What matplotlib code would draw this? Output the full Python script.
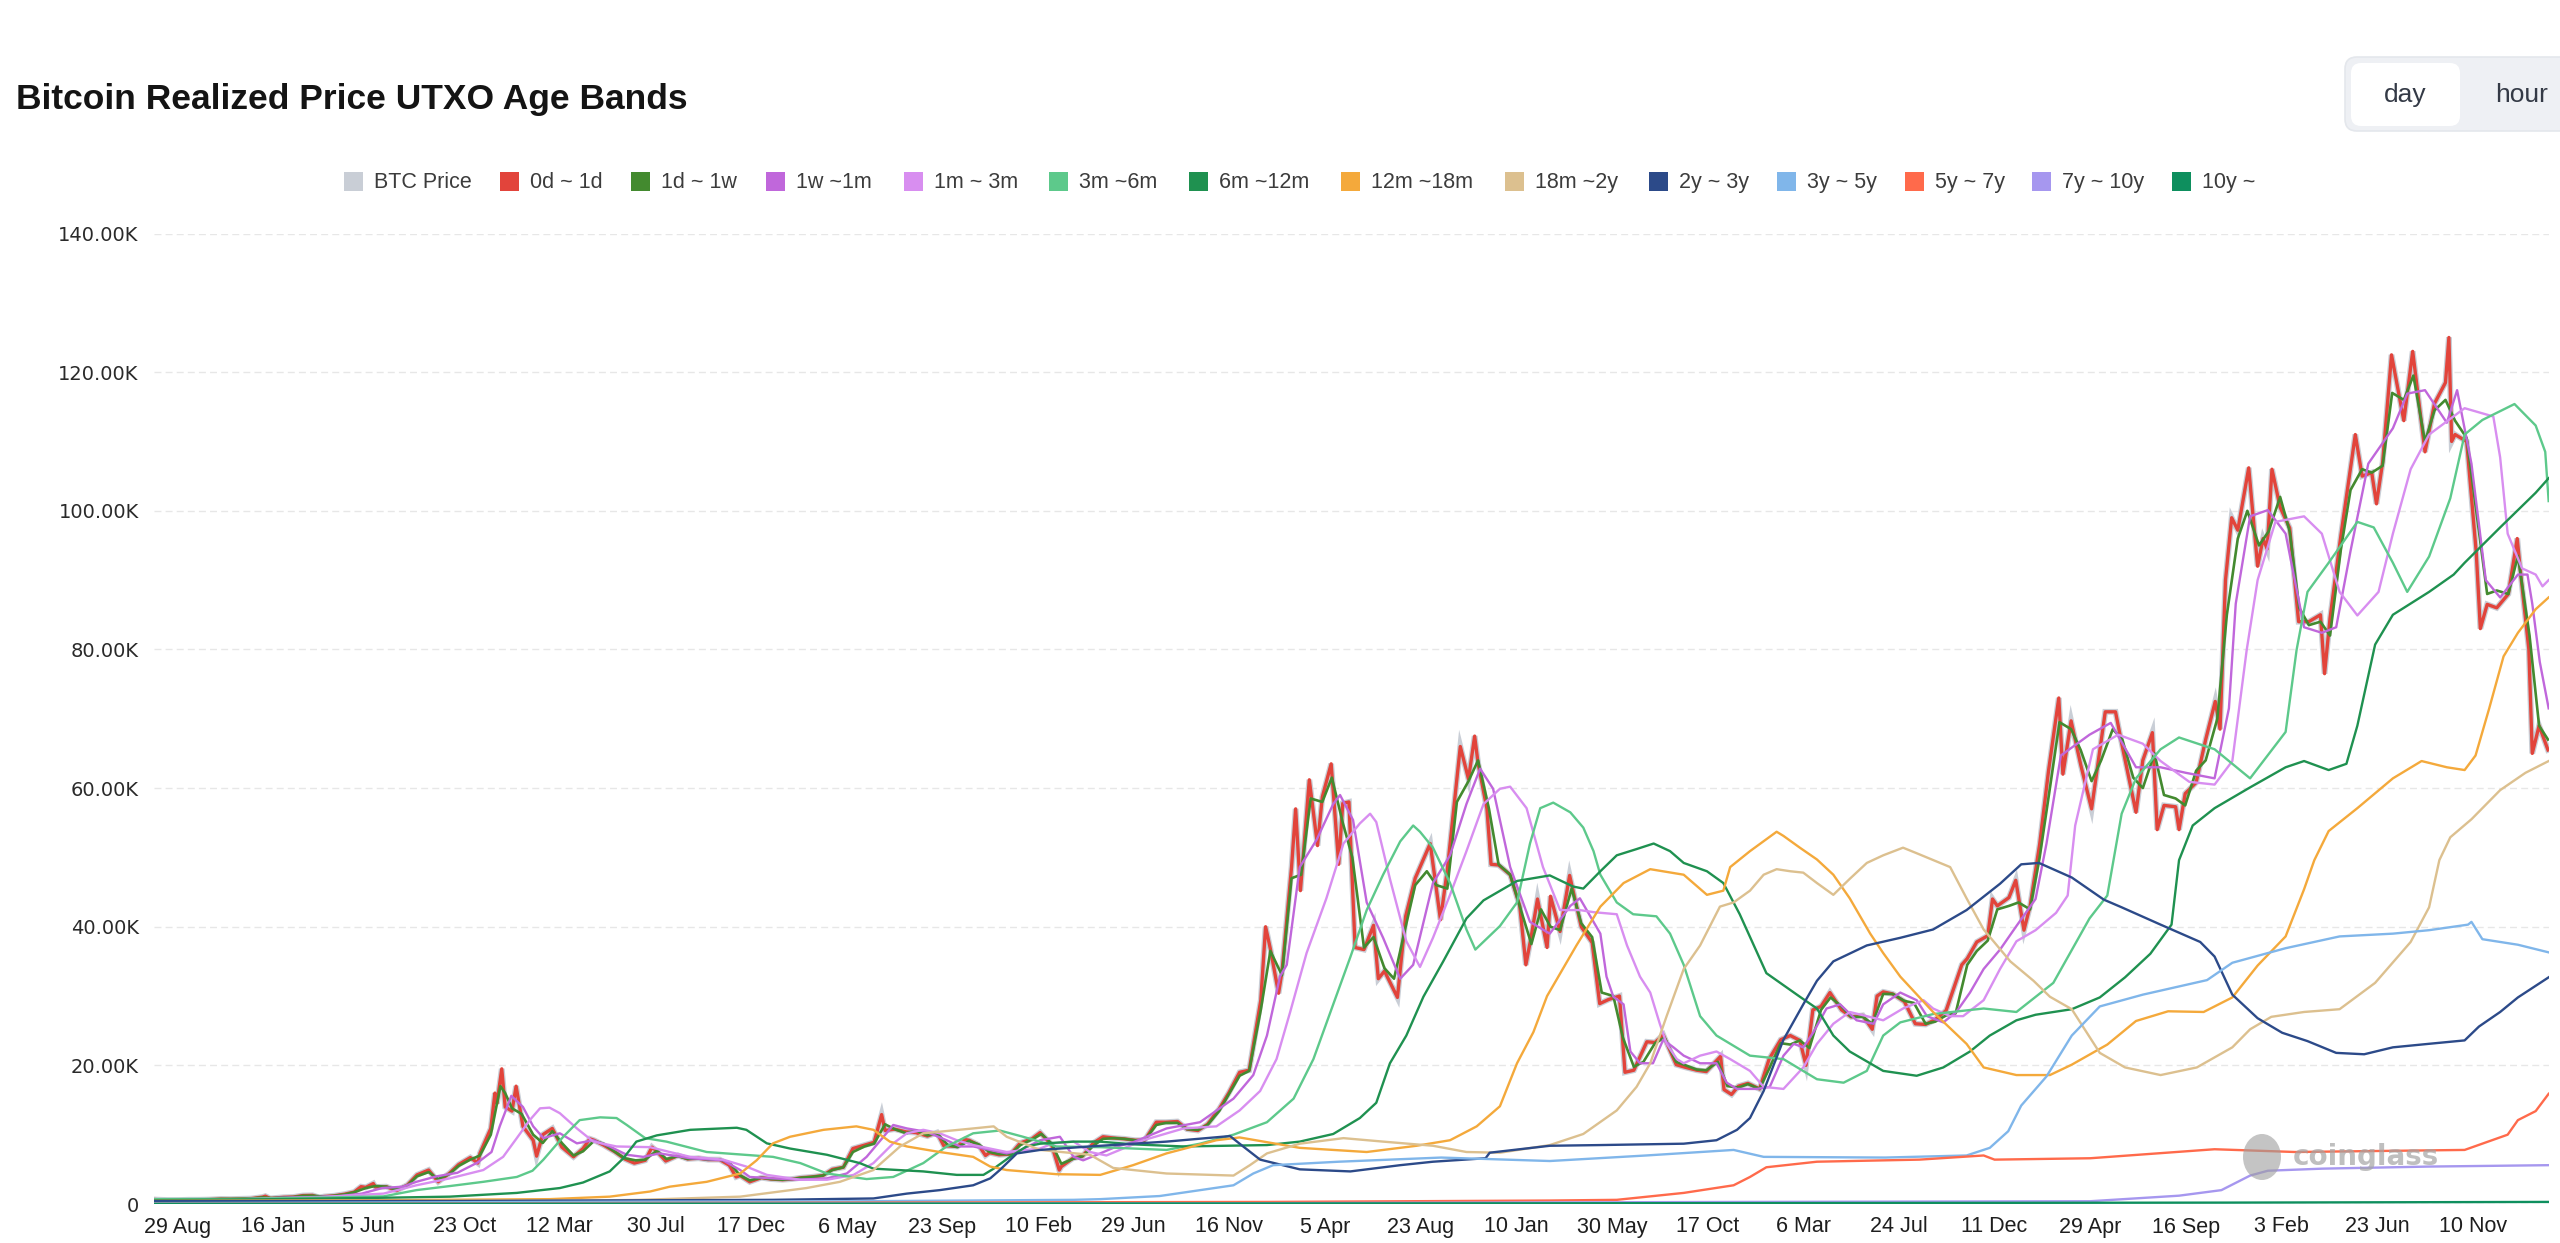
import pandas as pd
import matplotlib.pyplot as plt
from matplotlib.patches import FancyBboxPatch, Rectangle, Ellipse

# ---- data (values in thousands of USD) ----
# BTC price
btc_dates = [
    "2016-07-26", "2016-08-01", "2016-08-15", "2016-09-01", "2016-09-15", "2016-10-01", "2016-10-15",
    "2016-11-01", "2016-11-15", "2016-12-01", "2016-12-15", "2017-01-01", "2017-01-05", "2017-01-12",
    "2017-02-01", "2017-02-15", "2017-03-01", "2017-03-15", "2017-03-25", "2017-04-01", "2017-04-15",
    "2017-05-01", "2017-05-15", "2017-05-25", "2017-06-01", "2017-06-12", "2017-06-15", "2017-07-01",
    "2017-07-16", "2017-08-01", "2017-08-15", "2017-09-01", "2017-09-15", "2017-10-01", "2017-10-15",
    "2017-11-01", "2017-11-12", "2017-11-15", "2017-12-01", "2017-12-07", "2017-12-10", "2017-12-17",
    "2017-12-22", "2018-01-01", "2018-01-07", "2018-01-17", "2018-02-01", "2018-02-06", "2018-02-15",
    "2018-03-01", "2018-03-15", "2018-04-01", "2018-04-15", "2018-04-25", "2018-05-01", "2018-05-15",
    "2018-06-01", "2018-06-15", "2018-06-29", "2018-07-15", "2018-07-25", "2018-08-01", "2018-08-14",
    "2018-09-01", "2018-09-15", "2018-10-01", "2018-10-15", "2018-11-01", "2018-11-15", "2018-11-25",
    "2018-12-01", "2018-12-15", "2019-01-01", "2019-01-15", "2019-02-01", "2019-02-15", "2019-03-01",
    "2019-03-15", "2019-04-01", "2019-04-15", "2019-05-01", "2019-05-15", "2019-06-01", "2019-06-15",
    "2019-06-26", "2019-07-01", "2019-07-15", "2019-08-01", "2019-08-15", "2019-09-01", "2019-09-15",
    "2019-09-25", "2019-10-15", "2019-10-26", "2019-11-01", "2019-11-15", "2019-11-25", "2019-12-01",
    "2019-12-15", "2020-01-01", "2020-01-15", "2020-02-01", "2020-02-13", "2020-03-01", "2020-03-12",
    "2020-03-15", "2020-04-01", "2020-04-15", "2020-05-01", "2020-05-15", "2020-06-01", "2020-06-15",
    "2020-07-01", "2020-07-15", "2020-08-01", "2020-08-15", "2020-09-01", "2020-09-15", "2020-10-01",
    "2020-10-15", "2020-11-01", "2020-11-15", "2020-12-01", "2020-12-15", "2021-01-01", "2021-01-08",
    "2021-01-15", "2021-01-27", "2021-02-01", "2021-02-15", "2021-02-21", "2021-02-28", "2021-03-13",
    "2021-03-25", "2021-04-01", "2021-04-14", "2021-04-25", "2021-05-01", "2021-05-10", "2021-05-19",
    "2021-06-01", "2021-06-15", "2021-06-22", "2021-07-01", "2021-07-20", "2021-08-01", "2021-08-15",
    "2021-09-06", "2021-09-21", "2021-10-01", "2021-10-20", "2021-11-01", "2021-11-10", "2021-11-15",
    "2021-11-28", "2021-12-04", "2021-12-15", "2022-01-01", "2022-01-15", "2022-01-24", "2022-02-01",
    "2022-02-10", "2022-02-24", "2022-03-01", "2022-03-15", "2022-03-29", "2022-04-15", "2022-05-01",
    "2022-05-12", "2022-05-25", "2022-06-10", "2022-06-18", "2022-07-01", "2022-07-20", "2022-08-01",
    "2022-08-13", "2022-09-01", "2022-09-15", "2022-10-01", "2022-10-15", "2022-11-05", "2022-11-10",
    "2022-11-21", "2022-12-01", "2022-12-15", "2023-01-01", "2023-01-15", "2023-02-01", "2023-02-15",
    "2023-03-01", "2023-03-10", "2023-03-20", "2023-04-01", "2023-04-14", "2023-05-01", "2023-05-15",
    "2023-06-01", "2023-06-15", "2023-06-22", "2023-07-01", "2023-07-15", "2023-08-01", "2023-08-17",
    "2023-09-01", "2023-09-15", "2023-10-01", "2023-10-24", "2023-11-01", "2023-11-15", "2023-12-01",
    "2023-12-08", "2023-12-15", "2024-01-01", "2024-01-11", "2024-01-23", "2024-02-01", "2024-02-15",
    "2024-02-28", "2024-03-14", "2024-03-20", "2024-04-01", "2024-04-15", "2024-05-01", "2024-05-21",
    "2024-06-05", "2024-06-15", "2024-07-05", "2024-07-15", "2024-07-29", "2024-08-05", "2024-08-15",
    "2024-09-01", "2024-09-06", "2024-09-15", "2024-10-01", "2024-10-15", "2024-10-29", "2024-11-05",
    "2024-11-13", "2024-11-22", "2024-12-01", "2024-12-17", "2024-12-30", "2025-01-07", "2025-01-13",
    "2025-01-20", "2025-02-01", "2025-02-15", "2025-02-28", "2025-03-15", "2025-04-01", "2025-04-07",
    "2025-04-15", "2025-05-01", "2025-05-22", "2025-06-01", "2025-06-15", "2025-06-22", "2025-07-01",
    "2025-07-14", "2025-08-01", "2025-08-14", "2025-09-01", "2025-09-15", "2025-10-01", "2025-10-06",
    "2025-10-10", "2025-10-15", "2025-11-01", "2025-11-15", "2025-11-21", "2025-12-01", "2025-12-15",
    "2026-01-01", "2026-01-14", "2026-01-20", "2026-01-31", "2026-02-05", "2026-02-15", "2026-02-28",
]
btc_price = [
    0.65, 0.62, 0.57, 0.57, 0.61, 0.61, 0.64,
    0.73, 0.71, 0.75, 0.78, 1.00, 1.13, 0.80,
    0.97, 1.01, 1.22, 1.25, 0.93, 1.08, 1.18,
    1.42, 1.72, 2.50, 2.40, 2.95, 2.45, 2.50,
    1.93, 2.75, 4.20, 4.90, 3.20, 4.40, 5.70,
    6.70, 5.90, 7.30, 10.90, 16.00, 14.50, 19.50,
    14.00, 13.40, 17.00, 11.20, 9.20, 6.90, 10.00,
    10.90, 8.20, 6.80, 8.00, 9.40, 9.20, 8.50,
    7.50, 6.50, 5.90, 6.30, 8.20, 7.60, 6.20,
    7.00, 6.50, 6.60, 6.40, 6.40, 5.60, 3.90,
    4.10, 3.20, 3.80, 3.60, 3.50, 3.60, 3.80,
    3.90, 4.10, 5.00, 5.30, 8.00, 8.50, 8.90,
    12.90, 10.60, 10.80, 10.40, 10.30, 9.80, 10.30,
    8.40, 8.30, 9.30, 9.20, 8.50, 7.00, 7.40,
    7.10, 7.20, 8.80, 9.40, 10.30, 8.50, 4.90,
    5.40, 6.60, 6.90, 8.80, 9.70, 9.50, 9.40,
    9.20, 9.20, 11.80, 11.80, 11.90, 10.80, 10.60,
    11.50, 13.70, 16.00, 19.00, 19.30, 29.40, 40.00,
    36.80, 30.40, 33.50, 48.60, 57.00, 45.20, 61.20,
    51.70, 58.70, 63.50, 49.00, 57.80, 58.00, 37.00,
    36.70, 40.20, 32.50, 33.60, 29.80, 41.50, 47.00,
    52.00, 41.00, 48.20, 66.00, 61.30, 67.50, 63.60,
    57.00, 49.00, 48.90, 47.50, 43.00, 34.50, 38.70,
    44.00, 37.00, 44.40, 39.30, 47.40, 40.00, 37.70,
    28.90, 29.50, 30.00, 19.00, 19.30, 23.40, 23.30,
    24.40, 20.10, 19.70, 19.30, 19.10, 21.30, 16.50,
    15.80, 17.00, 17.40, 16.60, 20.90, 23.70, 24.30,
    23.60, 20.00, 28.00, 28.50, 30.50, 28.00, 27.00,
    27.20, 25.20, 30.00, 30.60, 30.30, 29.20, 26.00,
    25.90, 26.60, 27.90, 34.50, 35.40, 37.80, 38.70,
    44.00, 43.00, 44.20, 46.70, 39.50, 43.00, 51.90,
    62.50, 73.00, 62.00, 69.70, 63.40, 57.00, 71.00,
    71.00, 66.00, 56.50, 64.00, 68.00, 54.00, 57.50,
    57.30, 54.00, 59.20, 60.80, 67.00, 72.50, 68.50,
    90.00, 99.00, 97.20, 106.20, 92.00, 96.00, 94.50,
    106.00, 100.50, 97.50, 84.00, 84.00, 85.00, 76.50,
    84.50, 96.50, 111.00, 105.00, 105.50, 101.00, 107.00,
    122.50, 113.00, 123.00, 108.50, 115.50, 118.50, 125.00,
    110.00, 111.00, 110.00, 94.00, 83.00, 86.50, 86.00,
    88.00, 96.00, 90.00, 80.00, 65.00, 69.00, 65.50,
]
# the 0d ~ 1d band sits on the daily price
band_0d_1d = btc_price

# 1d ~ 1w band, read twice a month
w_dates = [
    "2016-07-26", "2016-08-01", "2016-08-15", "2016-09-01", "2016-09-15", "2016-10-01", "2016-10-15",
    "2016-11-01", "2016-11-15", "2016-12-01", "2016-12-15",
    "2017-01-01", "2017-01-15", "2017-02-01", "2017-02-15", "2017-03-01", "2017-03-15", "2017-04-01",
    "2017-04-15", "2017-05-01", "2017-05-15", "2017-06-01", "2017-06-15", "2017-07-01", "2017-07-15",
    "2017-08-01", "2017-08-15", "2017-09-01", "2017-09-15", "2017-10-01", "2017-10-15", "2017-11-01",
    "2017-11-15", "2017-12-01", "2017-12-15", "2017-12-22",
    "2018-01-01", "2018-01-15", "2018-02-01", "2018-02-15", "2018-03-01", "2018-03-15", "2018-04-01",
    "2018-04-15", "2018-05-01", "2018-05-15", "2018-06-01", "2018-06-15", "2018-07-01", "2018-07-15",
    "2018-08-01", "2018-08-15", "2018-09-01", "2018-09-15", "2018-10-01", "2018-10-15", "2018-11-01",
    "2018-11-15", "2018-12-01", "2018-12-15",
    "2019-01-01", "2019-01-15", "2019-02-01", "2019-02-15", "2019-03-01", "2019-03-15", "2019-04-01",
    "2019-04-15", "2019-05-01", "2019-05-15", "2019-06-01", "2019-06-15", "2019-07-01", "2019-07-15",
    "2019-08-01", "2019-08-15", "2019-09-01", "2019-09-15", "2019-10-01", "2019-10-15", "2019-11-01",
    "2019-11-15", "2019-12-01", "2019-12-15",
    "2020-01-01", "2020-01-15", "2020-02-01", "2020-02-15", "2020-03-01", "2020-03-15", "2020-04-01",
    "2020-04-15", "2020-05-01", "2020-05-15", "2020-06-01", "2020-06-15", "2020-07-01", "2020-07-15",
    "2020-08-01", "2020-08-15", "2020-09-01", "2020-09-15", "2020-10-01", "2020-10-15", "2020-11-01",
    "2020-11-15", "2020-12-01", "2020-12-15",
    "2021-01-01", "2021-01-15", "2021-02-01", "2021-02-15", "2021-03-01", "2021-03-15", "2021-04-01",
    "2021-04-15", "2021-05-01", "2021-05-15", "2021-06-01", "2021-06-15", "2021-07-01", "2021-07-15",
    "2021-08-01", "2021-08-15", "2021-09-01", "2021-09-15", "2021-10-01", "2021-10-15", "2021-11-01",
    "2021-11-15", "2021-12-01", "2021-12-15",
    "2022-01-01", "2022-01-15", "2022-02-01", "2022-02-15", "2022-03-01", "2022-03-15", "2022-04-01",
    "2022-04-15", "2022-05-01", "2022-05-15", "2022-06-01", "2022-06-15", "2022-07-01", "2022-07-15",
    "2022-08-01", "2022-08-15", "2022-09-01", "2022-09-15", "2022-10-01", "2022-10-15", "2022-11-01",
    "2022-11-15", "2022-12-01", "2022-12-15",
    "2023-01-01", "2023-01-15", "2023-02-01", "2023-02-15", "2023-03-01", "2023-03-15", "2023-04-01",
    "2023-04-15", "2023-05-01", "2023-05-15", "2023-06-01", "2023-06-15", "2023-07-01", "2023-07-15",
    "2023-08-01", "2023-08-15", "2023-09-01", "2023-09-15", "2023-10-01", "2023-10-15", "2023-11-01",
    "2023-11-15", "2023-12-01", "2023-12-15",
    "2024-01-01", "2024-01-15", "2024-02-01", "2024-02-15", "2024-03-01", "2024-03-15", "2024-04-01",
    "2024-04-15", "2024-05-01", "2024-05-15", "2024-06-01", "2024-06-15", "2024-07-01", "2024-07-15",
    "2024-08-01", "2024-08-15", "2024-09-01", "2024-09-15", "2024-10-01", "2024-10-15", "2024-11-01",
    "2024-11-15", "2024-12-01", "2024-12-15",
    "2025-01-01", "2025-01-15", "2025-02-01", "2025-02-15", "2025-03-01", "2025-03-15", "2025-04-01",
    "2025-04-15", "2025-05-01", "2025-05-15", "2025-06-01", "2025-06-15", "2025-07-01", "2025-07-15",
    "2025-08-01", "2025-08-15", "2025-09-01", "2025-09-15", "2025-10-01", "2025-10-15", "2025-11-01",
    "2025-11-15", "2025-12-01", "2025-12-15",
    "2026-01-01", "2026-01-15", "2026-02-01", "2026-02-15", "2026-02-28",
]
band_1d_1w = [
    0.66, 0.62, 0.58, 0.57, 0.61, 0.61, 0.64, 0.71, 0.71, 0.75, 0.78,
    0.95, 0.85, 0.95, 1.00, 1.18, 1.20, 1.07, 1.18, 1.38, 1.70, 2.30, 2.60, 2.50, 2.10,
    2.70, 4.00, 4.60, 3.60, 4.30, 5.50, 6.40, 7.00, 10.00, 17.00, 16.00,
    13.80, 13.00, 10.00, 8.80, 10.50, 8.80, 7.00, 7.60, 9.10, 8.70, 7.50, 6.60, 6.30, 6.40,
    7.70, 6.50, 6.90, 6.50, 6.60, 6.40, 6.40, 6.00, 4.10, 3.40,
    3.80, 3.60, 3.50, 3.60, 3.80, 3.90, 4.10, 4.90, 5.30, 7.50, 8.30, 8.70, 11.50, 10.80,
    10.20, 10.60, 9.90, 10.20, 8.50, 8.20, 9.10, 8.60, 7.50, 7.20,
    7.20, 8.50, 9.30, 10.10, 8.70, 5.80, 6.50, 6.90, 8.40, 9.40, 9.50, 9.40, 9.20, 9.20,
    11.40, 11.70, 11.70, 10.80, 10.70, 11.40, 13.40, 15.80, 18.50, 19.20,
    28.00, 36.50, 33.00, 47.00, 47.50, 58.50, 58.00, 61.50, 55.00, 50.00, 37.00, 38.50, 34.00, 32.50,
    40.00, 46.00, 48.00, 46.00, 45.50, 58.00, 61.00, 64.00, 57.00, 49.00,
    47.50, 43.00, 37.50, 42.50, 40.00, 39.50, 45.50, 40.50, 38.50, 30.50, 30.00, 24.00, 19.80, 20.50,
    23.20, 24.00, 20.50, 20.00, 19.40, 19.30, 20.50, 17.00, 16.80, 17.30,
    16.60, 19.50, 23.20, 23.00, 23.60, 22.50, 28.00, 29.80, 28.50, 27.00, 27.00, 26.00, 30.30, 30.30,
    29.30, 29.00, 26.00, 26.30, 27.20, 27.50, 34.50, 36.50, 38.00, 42.50,
    43.00, 43.50, 42.50, 50.00, 60.00, 69.50, 68.50, 65.50, 61.00, 64.00, 68.50, 67.00, 61.50, 60.00,
    65.00, 59.00, 58.50, 57.50, 62.50, 64.00, 70.00, 85.00, 96.00, 100.00,
    95.00, 97.00, 102.00, 97.00, 86.00, 83.50, 84.00, 82.00, 94.50, 103.00, 106.00, 105.50, 106.50, 117.00,
    116.00, 119.50, 110.00, 114.50, 116.00, 113.00, 110.50, 100.00, 88.00, 88.50,
    88.00, 93.50, 82.00, 69.00, 67.00,
]

# longer bands as (days since 29 Aug 2016, value) knots
band_1w_1m = [
    (-34, 0.62), (0, 0.58), (60, 0.60), (120, 0.76), (150, 0.90), (200, 1.00), (240, 1.15), (270, 1.50),
    (300, 2.30), (330, 2.50), (350, 3.20), (380, 4.00), (410, 4.50), (440, 6.00), (460, 7.50), (472, 11.2),
    (489, 15.6), (506, 14.0), (521, 11.2), (536, 9.5), (560, 10.2), (585, 8.75), (609, 9.2), (633, 8.3),
    (658, 7.1), (682, 6.8), (706, 7.3), (751, 6.6), (799, 6.3), (824, 4.9), (838, 3.9), (872, 3.7),
    (912, 3.5), (951, 3.7), (980, 4.4), (1009, 6.8), (1038, 10.2), (1048, 11.4), (1068, 10.9),
    (1097, 10.4), (1126, 9.2), (1146, 8.3), (1165, 8.3), (1190, 7.8), (1214, 7.3), (1235, 7.8),
    (1263, 9.2), (1292, 9.7), (1312, 6.8), (1326, 6.3), (1351, 7.3), (1375, 8.3), (1399, 8.9),
    (1448, 10.9), (1497, 11.8), (1546, 15.2), (1575, 18.6), (1595, 24.3), (1614, 32.8), (1624, 34.5),
    (1643, 48.6), (1668, 52.6), (1692, 57.7), (1702, 59.0), (1721, 55.4), (1741, 43.5), (1765, 38.4),
    (1790, 32.5), (1809, 34.5), (1838, 46.3), (1863, 50.3), (1887, 57.7), (1907, 62.8), (1926, 59.9),
    (1951, 48.6), (1980, 40.7), (2009, 39.0), (2039, 43.0), (2053, 44.1), (2083, 39.0), (2092, 32.8),
    (2102, 29.9), (2117, 28.8), (2127, 22.0), (2141, 20.3), (2160, 20.3), (2175, 23.7), (2190, 22.6),
    (2205, 21.4), (2229, 20.3), (2253, 20.3), (2268, 17.5), (2283, 16.6), (2312, 16.6), (2331, 16.9),
    (2351, 21.4), (2366, 23.1), (2380, 22.6), (2395, 24.8), (2414, 28.2), (2434, 28.8), (2458, 26.5),
    (2483, 26.0), (2497, 28.8), (2522, 30.5), (2546, 29.4), (2561, 27.1), (2585, 26.2), (2604, 27.7),
    (2624, 30.5), (2644, 33.9), (2668, 36.7), (2692, 40.1), (2720, 44.0), (2736, 52.0), (2757, 64.7),
    (2799, 67.7), (2830, 69.4), (2867, 63.0), (2903, 63.0), (2940, 62.2), (2982, 61.4), (3003, 71.5),
    (3013, 86.6), (3034, 99.2), (3060, 100.1), (3086, 96.7), (3113, 83.2), (3139, 82.4), (3160, 83.2),
    (3181, 94.2), (3207, 106.8), (3243, 111.9), (3264, 116.9), (3290, 117.4), (3322, 112.7),
    (3337, 117.4), (3358, 106.8), (3379, 90.0), (3400, 87.5), (3426, 90.8), (3440, 90.8), (3447, 86.6),
    (3458, 78.2), (3471, 71.5),
]
band_1m_3m = [
    (-34, 0.60), (100, 0.70), (200, 0.95), (302, 1.5), (350, 2.7), (399, 3.7), (448, 4.9), (477, 6.8),
    (497, 9.5), (516, 12.1), (531, 13.8), (545, 13.9), (560, 13.1), (585, 10.9), (609, 9.0), (643, 8.3),
    (692, 8.2), (721, 7.5), (751, 6.8), (799, 6.4), (833, 5.4), (863, 4.2), (912, 3.5), (951, 3.5),
    (990, 4.2), (1019, 5.9), (1048, 8.75), (1068, 10.2), (1092, 10.7), (1116, 10.2), (1141, 9.2),
    (1165, 8.5), (1214, 7.5), (1263, 8.0), (1282, 8.75), (1312, 9.0), (1336, 7.5), (1360, 7.0),
    (1414, 9.2), (1473, 10.9), (1521, 11.2), (1555, 13.5), (1585, 16.3), (1609, 20.9), (1629, 27.7),
    (1653, 36.2), (1682, 44.1), (1707, 52.0), (1731, 54.9), (1746, 56.3), (1755, 55.1), (1775, 46.9),
    (1799, 37.9), (1819, 34.2), (1838, 38.4), (1863, 44.6), (1887, 50.9), (1912, 57.7), (1936, 59.9),
    (1951, 60.2), (1975, 57.1), (1999, 48.6), (2024, 42.4), (2053, 42.4), (2073, 42.1), (2107, 41.8),
    (2122, 37.3), (2141, 32.8), (2156, 30.5), (2170, 26.0), (2180, 23.1), (2195, 20.9), (2205, 20.3),
    (2229, 21.4), (2253, 22.0), (2273, 20.9), (2302, 19.2), (2322, 16.9), (2351, 16.6), (2380, 19.7),
    (2400, 23.1), (2424, 26.0), (2448, 27.7), (2473, 27.1), (2497, 26.5), (2526, 28.2), (2556, 29.4),
    (2570, 28.2), (2595, 27.1), (2614, 27.1), (2644, 29.4), (2668, 33.9), (2692, 37.9), (2720, 39.5),
    (2750, 42.0), (2767, 44.5), (2778, 54.6), (2804, 65.6), (2841, 67.7), (2877, 66.4), (2903, 63.9),
    (2945, 60.9), (2982, 60.5), (3008, 63.9), (3029, 79.9), (3045, 90.0), (3071, 98.4), (3113, 99.2),
    (3139, 96.7), (3165, 88.3), (3191, 84.9), (3222, 88.3), (3243, 96.7), (3269, 106.0), (3296, 111.0),
    (3348, 114.8), (3390, 113.6), (3400, 107.7), (3411, 96.7), (3432, 91.7), (3452, 90.8), (3462, 89.1),
    (3471, 90.0),
]
band_3m_6m = [
    (-34, 0.70), (100, 0.75), (200, 0.90), (302, 1.1), (350, 2.0), (400, 2.6), (448, 3.2), (497, 3.9),
    (520, 4.8), (536, 6.4), (550, 8.0), (565, 9.7), (589, 12.1), (619, 12.5), (643, 12.4), (658, 11.4),
    (685, 9.5), (716, 9.0), (775, 7.5), (872, 6.8), (912, 5.9), (951, 4.4), (1009, 3.6), (1048, 3.9),
    (1092, 5.9), (1126, 8.3), (1165, 10.2), (1204, 10.6), (1238, 9.7), (1287, 8.3), (1351, 8.2),
    (1448, 7.8), (1497, 8.7), (1546, 10.0), (1595, 11.8), (1634, 15.2), (1663, 20.9), (1692, 28.8),
    (1717, 35.6), (1741, 42.4), (1765, 47.5), (1790, 52.3), (1809, 54.6), (1819, 53.7), (1838, 51.4),
    (1863, 46.3), (1887, 39.6), (1900, 36.7), (1936, 40.1), (1961, 43.5), (1980, 52.0), (1995, 57.1),
    (2014, 57.9), (2039, 56.5), (2058, 54.3), (2073, 50.9), (2083, 47.5), (2107, 43.5), (2131, 41.8),
    (2165, 41.5), (2185, 39.0), (2205, 34.5), (2229, 27.1), (2253, 24.3), (2302, 21.4), (2351, 20.9),
    (2400, 18.0), (2439, 17.5), (2473, 19.2), (2497, 24.3), (2522, 26.2), (2570, 27.4), (2644, 28.2),
    (2692, 27.7), (2746, 31.9), (2799, 41.2), (2825, 44.5), (2846, 56.3), (2867, 61.4), (2903, 65.6),
    (2930, 67.3), (2982, 65.6), (3034, 61.4), (3086, 68.1), (3102, 79.9), (3118, 88.3), (3149, 92.5),
    (3191, 98.4), (3215, 97.6), (3243, 92.5), (3264, 88.3), (3296, 93.4), (3327, 101.8), (3348, 111.0),
    (3374, 113.1), (3421, 115.4), (3452, 112.3), (3466, 108.5), (3471, 101.4),
]
band_6m_12m = [
    (-34, 0.55), (150, 0.70), (300, 0.90), (399, 1.06), (497, 1.6), (560, 2.3), (594, 3.1), (633, 4.7),
    (653, 6.6), (672, 9.0), (702, 9.9), (751, 10.7), (819, 11.0), (833, 10.7), (863, 8.75), (897, 8.0),
    (951, 7.1), (999, 5.9), (1019, 5.1), (1092, 4.7), (1141, 4.2), (1180, 4.2), (1195, 5.1), (1219, 6.8),
    (1243, 8.3), (1263, 8.7), (1312, 9.0), (1350, 9.0), (1400, 8.6), (1473, 8.3), (1595, 8.5),
    (1643, 9.0), (1692, 10.1), (1731, 12.4), (1755, 14.6), (1775, 20.3), (1799, 24.3), (1824, 29.9),
    (1853, 35.0), (1887, 41.2), (1912, 43.8), (1961, 46.6), (2009, 47.4), (2043, 45.8), (2058, 45.5),
    (2083, 48.0), (2107, 50.3), (2136, 51.2), (2161, 52.0), (2185, 50.9), (2205, 49.2), (2239, 48.0),
    (2263, 46.3), (2287, 41.8), (2326, 33.3), (2375, 29.9), (2400, 28.2), (2424, 24.3), (2448, 22.0),
    (2497, 19.2), (2546, 18.5), (2585, 19.7), (2624, 22.0), (2653, 24.3), (2692, 26.5), (2720, 27.3),
    (2773, 28.1), (2814, 29.8), (2851, 32.7), (2888, 36.1), (2919, 40.3), (2930, 49.6), (2950, 54.6),
    (2982, 57.1), (3034, 60.1), (3086, 63.0), (3113, 63.9), (3149, 62.6), (3175, 63.5), (3191, 69.0),
    (3217, 80.7), (3243, 85.0), (3296, 88.3), (3332, 90.8), (3348, 92.5), (3400, 97.6), (3452, 102.6),
    (3471, 104.7),
]
band_12m_18m = [
    (-34, 0.45), (300, 0.55), (545, 0.70), (633, 1.06), (692, 1.8), (721, 2.5), (775, 3.2), (824, 4.4),
    (848, 6.3), (872, 8.75), (897, 9.7), (946, 10.7), (994, 11.2), (1019, 10.7), (1043, 9.0), (1068, 8.3),
    (1116, 7.5), (1165, 6.8), (1190, 5.4), (1214, 4.9), (1287, 4.3), (1351, 4.2), (1399, 5.6),
    (1448, 7.3), (1521, 9.2), (1555, 9.6), (1643, 8.1), (1741, 7.5), (1814, 8.4), (1863, 9.2),
    (1902, 11.2), (1936, 14.1), (1961, 20.3), (1985, 24.8), (2005, 30.0), (2048, 37.3), (2083, 42.9),
    (2117, 46.3), (2156, 48.3), (2205, 47.5), (2239, 44.6), (2263, 45.2), (2273, 48.6), (2302, 50.9),
    (2341, 53.7), (2351, 53.1), (2375, 51.4), (2400, 49.7), (2424, 47.5), (2448, 44.1), (2478, 39.0),
    (2497, 36.2), (2522, 32.8), (2570, 27.7), (2619, 23.1), (2644, 19.7), (2692, 18.6), (2741, 18.6),
    (2773, 20.1), (2825, 23.0), (2867, 26.4), (2914, 27.8), (2966, 27.7), (3008, 29.8), (3045, 34.4),
    (3086, 38.6), (3113, 45.4), (3128, 49.6), (3149, 53.8), (3191, 57.1), (3243, 61.4), (3285, 63.9),
    (3322, 63.0), (3348, 62.6), (3364, 64.7), (3384, 71.5), (3405, 79.0), (3426, 82.4), (3452, 85.8),
    (3471, 87.5),
]
band_18m_2y = [
    (-34, 0.40), (600, 0.50), (677, 0.60), (824, 1.06), (921, 2.3), (970, 3.2), (1019, 4.9), (1058, 8.3),
    (1092, 10.2), (1165, 10.9), (1195, 11.2), (1214, 9.7), (1263, 7.8), (1336, 7.1), (1370, 5.2),
    (1448, 4.4), (1546, 4.1), (1570, 5.6), (1595, 7.3), (1643, 8.7), (1707, 9.5), (1765, 9.0),
    (1838, 8.4), (1887, 7.5), (1936, 7.4), (2009, 8.5), (2058, 10.1), (2107, 13.5), (2136, 16.9),
    (2156, 20.3), (2180, 27.1), (2205, 33.9), (2229, 37.3), (2258, 42.9), (2278, 43.5), (2302, 45.2),
    (2322, 47.5), (2341, 48.3), (2361, 48.0), (2380, 47.8), (2400, 46.3), (2424, 44.6), (2448, 46.9),
    (2473, 49.2), (2497, 50.3), (2526, 51.4), (2546, 50.6), (2595, 48.6), (2619, 44.1), (2644, 39.6),
    (2683, 35.0), (2717, 32.2), (2741, 29.9), (2773, 28.1), (2814, 21.8), (2851, 19.7), (2903, 18.6),
    (2956, 19.7), (3008, 22.6), (3034, 25.2), (3065, 27.0), (3113, 27.7), (3165, 28.1), (3217, 31.9),
    (3269, 37.8), (3296, 42.8), (3311, 49.6), (3327, 52.9), (3358, 55.5), (3400, 59.7), (3437, 62.2),
    (3471, 63.9),
]
band_2y_3y = [
    (-34, 0.42), (400, 0.43), (872, 0.60), (1019, 0.80), (1068, 1.5), (1116, 2.0), (1165, 2.7),
    (1190, 3.7), (1204, 4.9), (1229, 7.3), (1263, 7.8), (1336, 8.3), (1448, 9.0), (1541, 9.8),
    (1555, 8.7), (1585, 6.4), (1643, 5.0), (1717, 4.7), (1790, 5.6), (1838, 6.1), (1915, 6.6),
    (1921, 7.4), (2009, 8.4), (2082, 8.5), (2205, 8.7), (2253, 9.2), (2283, 10.7), (2302, 12.4),
    (2322, 16.3), (2351, 23.7), (2380, 28.8), (2400, 32.2), (2424, 35.0), (2473, 37.3), (2522, 38.4),
    (2570, 39.6), (2619, 42.4), (2668, 46.2), (2699, 49.0), (2725, 49.2), (2773, 47.1), (2820, 43.9),
    (2846, 42.8), (2903, 40.3), (2961, 37.8), (2982, 35.7), (3008, 30.2), (3045, 26.8), (3081, 24.7),
    (3118, 23.5), (3160, 21.8), (3201, 21.6), (3243, 22.6), (3295, 23.1), (3348, 23.6), (3369, 25.6),
    (3400, 27.7), (3426, 29.8), (3471, 32.7),
]
band_3y_5y = [
    (-34, 0.12), (400, 0.25), (700, 0.35), (1000, 0.40), (1312, 0.60), (1351, 0.70), (1438, 1.15),
    (1546, 2.7), (1575, 4.4), (1604, 5.6), (1700, 6.1), (1850, 6.7), (2009, 6.2), (2150, 7.0),
    (2278, 7.8), (2322, 6.8), (2500, 6.7), (2619, 7.0), (2653, 8.1), (2680, 10.5), (2699, 14.2),
    (2736, 18.4), (2773, 24.3), (2814, 28.5), (2877, 30.2), (2971, 32.3), (3008, 34.8), (3086, 36.9),
    (3165, 38.6), (3243, 39.0), (3296, 39.5), (3353, 40.3), (3358, 40.7), (3374, 38.2), (3426, 37.4),
    (3471, 36.3),
]
band_5y_7y = [
    (-34, 0.03), (1000, 0.20), (1600, 0.30), (2009, 0.50), (2107, 0.60), (2205, 1.6), (2278, 2.7),
    (2302, 3.9), (2326, 5.3), (2400, 6.1), (2550, 6.4), (2644, 7.0), (2660, 6.4), (2800, 6.6),
    (2982, 7.9), (3100, 7.5), (3348, 7.8), (3411, 10.0), (3426, 12.1), (3452, 13.4), (3471, 15.9),
]
band_7y_10y = [
    (-34, 0.01), (1500, 0.10), (2300, 0.30), (2800, 0.40), (2930, 1.2), (2992, 2.0), (3034, 4.1),
    (3060, 4.8), (3140, 5.1), (3296, 5.4), (3471, 5.6),
]
band_10y = [
    (-34, 0.02), (1000, 0.05), (2000, 0.10), (3000, 0.20), (3471, 0.30),
]

series_names = ["BTC Price", "0d ~ 1d", "1d ~ 1w", "1w ~1m", "1m ~ 3m", "3m ~6m", "6m ~12m",
                "12m ~18m", "18m ~2y", "2y ~ 3y", "3y ~ 5y", "5y ~ 7y", "7y ~ 10y", "10y ~"]
series_colors = ["#c9ced6", "#e2443b", "#438a2f", "#c067db", "#d88ef0", "#5dc98b", "#1f9150",
                 "#f4a93b", "#dcc08f", "#2c4a89", "#80b6ea", "#ff6a4b", "#a697ef", "#0e8f5e"]

x_tick_labels = ["29 Aug", "16 Jan", "5 Jun", "23 Oct", "12 Mar", "30 Jul", "17 Dec", "6 May", "23 Sep",
                 "10 Feb", "29 Jun", "16 Nov", "5 Apr", "23 Aug", "10 Jan", "30 May", "17 Oct", "6 Mar",
                 "24 Jul", "11 Dec", "29 Apr", "16 Sep", "3 Feb", "23 Jun", "10 Nov"]
y_tick_labels = ["0", "20.00K", "40.00K", "60.00K", "80.00K", "100.00K", "120.00K", "140.00K"]

# ---- figure ----
START = pd.Timestamp("2016-08-29")
W, H = 2560, 1243
fig = plt.figure(figsize=(W / 100, H / 100), dpi=100)
fig.patch.set_facecolor("white")

ax = fig.add_axes([154 / W, 1 - 1204 / H, (2549 - 154) / W, (1204 - 233.5) / H])

btc_x = (pd.to_datetime(btc_dates) - START).days
w_x = (pd.to_datetime(w_dates) - START).days

ax.plot(btc_x, btc_price, color=series_colors[0], lw=4.2, zorder=2, solid_joinstyle="miter")
ax.plot(btc_x, band_0d_1d, color=series_colors[1], lw=2.4, zorder=3)
ax.plot(w_x, band_1d_1w, color=series_colors[2], lw=1.9, zorder=4)

bands = [band_1w_1m, band_1m_3m, band_3m_6m, band_6m_12m, band_12m_18m, band_18m_2y,
         band_2y_3y, band_3y_5y, band_5y_7y, band_7y_10y, band_10y]
for i, band in enumerate(bands):
    xs = [p[0] for p in band]
    ys = [p[1] for p in band]
    ax.plot(xs, ys, color=series_colors[i + 3], lw=1.7, zorder=5 + i)

ax.set_xlim(-34, 3471.5)
ax.set_ylim(0, 140)
ax.set_xticks([140 * i for i in range(len(x_tick_labels))])
ax.set_xticklabels(x_tick_labels, family=["Liberation Sans", "DejaVu Sans"],
                   fontsize=15.5, color="#1e1e1e")
ax.set_yticks([20 * i for i in range(len(y_tick_labels))])
ax.set_yticklabels(y_tick_labels, family="DejaVu Sans", fontsize=14, color="#2a2a2a")
ax.tick_params(axis="both", length=0)
ax.tick_params(axis="x", pad=9)
ax.tick_params(axis="y", pad=11)
for s in ax.spines.values():
    s.set_visible(False)
ax.set_axisbelow(True)
ax.yaxis.grid(True, color="#e7e7e7", lw=1.0, linestyle=(0, (5, 3)))
ax.xaxis.grid(False)

# ---- overlay in pixel coordinates for title, legend, buttons, watermark ----
ov = fig.add_axes([0, 0, 1, 1], zorder=20)
ov.set_xlim(0, W)
ov.set_ylim(H, 0)
ov.axis("off")
ov.patch.set_alpha(0)

ov.text(16, 109, "Bitcoin Realized Price UTXO Age Bands", fontsize=25.5, fontweight="bold",
        family=["Liberation Sans", "DejaVu Sans"], color="#141414", va="baseline", ha="left")

swatch_x = [344, 500, 631, 766, 904, 1049, 1189, 1341, 1505, 1649, 1777, 1905, 2032, 2172]
for sx, name, col in zip(swatch_x, series_names, series_colors):
    ov.add_patch(Rectangle((sx, 171.5), 19, 19.5, facecolor=col, edgecolor="none"))
    ov.text(sx + 30, 182, name, fontsize=15.5, family=["Liberation Sans", "DejaVu Sans"],
            color="#3c3c3c", va="center", ha="left")

# day / hour switch
ov.add_patch(FancyBboxPatch((2345, 57), 260, 74, boxstyle="round,pad=0,rounding_size=12",
                            facecolor="#eef0f4", edgecolor="#e4e7ec", lw=1.2))
ov.add_patch(FancyBboxPatch((2351, 63), 109, 63, boxstyle="round,pad=0,rounding_size=10",
                            facecolor="white", edgecolor="none"))
ov.text(2405, 95, "day", fontsize=19, family=["Liberation Sans", "DejaVu Sans"],
        color="#343a46", va="center", ha="center")
ov.text(2522, 95, "hour", fontsize=19, family=["Liberation Sans", "DejaVu Sans"],
        color="#343a46", va="center", ha="center")

# watermark
ov.add_patch(Ellipse((2262, 1157), 38, 46, facecolor="#9e9e9e", edgecolor="none", alpha=0.6))
ov.text(2293, 1157, "coinglass", fontsize=20, fontweight="bold", family="DejaVu Sans",
        color="#a4a4a4", alpha=0.7, va="center", ha="left")

fig.savefig("out.png", dpi=100)
